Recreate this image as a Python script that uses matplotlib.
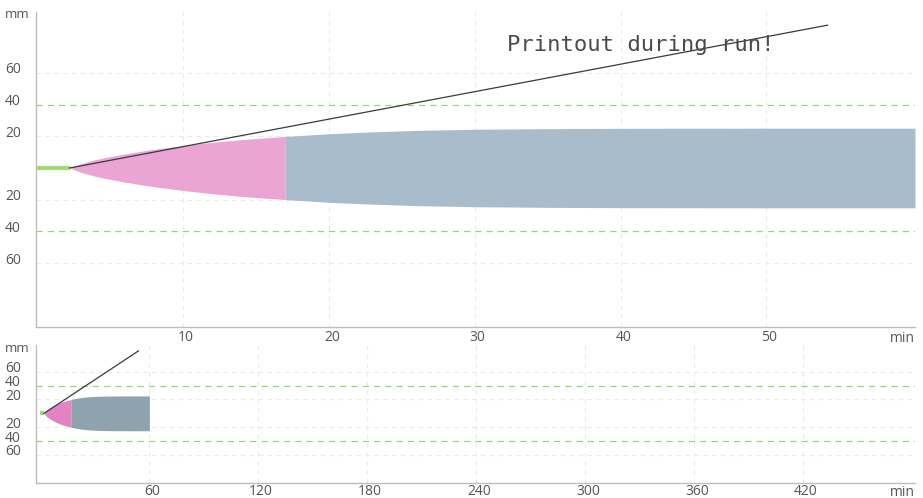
import numpy as np
import matplotlib
matplotlib.use("Agg")
import matplotlib.pyplot as plt
from matplotlib import transforms

# ---- data -------------------------------------------------------------
time_min = np.array([2.2, 3, 4, 5, 6, 7, 8, 10, 12, 14, 17, 20, 23, 26, 30, 35, 40, 50, 60.2])
amplitude_mm = np.array([0, 2.8, 5.3, 7.2, 8.9, 10.4, 11.8, 14.2, 16.2, 17.9, 19.9,
                         21.6, 22.8, 23.7, 24.4, 24.8, 25.0, 25.1, 25.1])
clot_time = 2.2          # end of flat (green) baseline
cft_end = 17.0           # end of pink (clot formation) phase
tangent_t = [2.2, 54.2]
tangent_mm = [0, 90]

top_xticks = [10, 20, 30, 40, 50]
bottom_xticks = [60, 120, 180, 240, 300, 360, 420]
y_grid_gray = [-60, -20, 20, 60]
y_grid_green = [-40, 40]
y_ticklabels = [60, 40, 20, -20, -40, -60]
note_text = "Printout during run!"

# ---- style ------------------------------------------------------------
PINK_TOP = "#EBA5D4"
BLUE_TOP = "#A9BCCC"
PINK_BOT = "#E483C2"
BLUE_BOT = "#8FA3AE"
GREEN = "#A3DB72"
GRID_GRAY = "#EAEAEA"
GRID_GREEN = "#92D878"
SPINE = "#BDBDBD"
LABEL = "#555555"
FONT = "Open Sans"

fig = plt.figure(figsize=(9.23, 4.98), dpi=100)
ax_top = fig.add_axes([36/923, 0.344, 879/923, 0.6325])
ax_bot = fig.add_axes([36/923, 0.0307, 879/923, 0.2765])


def style_axes(ax, xlim, xticks, pink, blue, mm_y, xpad):
    ax.set_xlim(*xlim)
    ax.set_ylim(-100, 98.5)
    for s in ["top", "right"]:
        ax.spines[s].set_visible(False)
    for s in ["left", "bottom"]:
        ax.spines[s].set_color(SPINE)
        ax.spines[s].set_linewidth(1.0)
    # grid
    for x in xticks:
        ax.axvline(x, color=GRID_GRAY, lw=0.8, ls=(0, (4, 4)), zorder=0)
    for y in y_grid_gray:
        ax.axhline(y, color=GRID_GRAY, lw=0.8, ls=(0, (4, 4)), zorder=0)
    for y in y_grid_green:
        ax.axhline(y, color=GRID_GREEN, lw=0.9, ls=(0, (5, 4)), zorder=1)
    # trace
    ax.plot([0, clot_time], [0, 0], color=GREEN, lw=3, solid_capstyle="butt", zorder=2)
    ax.fill_between(time_min, -amplitude_mm, amplitude_mm, where=time_min <= cft_end,
                    color=pink, lw=0, zorder=2)
    ax.fill_between(time_min, -amplitude_mm, amplitude_mm, where=time_min >= cft_end,
                    color=blue, lw=0, zorder=2)
    ax.plot(tangent_t, tangent_mm, color="#3a3a3a", lw=0.9, zorder=3)
    # x ticks
    ax.set_xticks(xticks)
    ax.set_xticklabels([str(v) for v in xticks], fontsize=10, color=LABEL, family=FONT)
    ax.tick_params(axis="x", length=0, pad=xpad)
    off = transforms.ScaledTranslation(3/100, 0, fig.dpi_scale_trans)
    for lab in ax.get_xticklabels():
        lab.set_transform(lab.get_transform() + off)
    ax.set_yticks([])
    ax.text(1.0, 0, "min", transform=ax.transAxes + transforms.ScaledTranslation(0, -xpad/72 - 0.01, fig.dpi_scale_trans),
            ha="right", va="top", fontsize=10, color=LABEL, family=FONT)
    # y labels, left aligned at figure edge
    tr = transforms.blended_transform_factory(fig.transFigure, ax.transData)
    yoff = transforms.ScaledTranslation(0, 3/100, fig.dpi_scale_trans)
    for v in y_ticklabels:
        ax.text(5/923, v, str(abs(v)), transform=tr + yoff, ha="left", va="center",
                fontsize=10, color=LABEL, family=FONT)
    ax.text(5/923, mm_y, "mm", transform=tr, ha="left", va="center",
            fontsize=9.5, color=LABEL, family=FONT)


style_axes(ax_top, (-0.1, 60.2), top_xticks, PINK_TOP, BLUE_TOP, 97, 2.5)
style_axes(ax_bot, (-2.2, 481.6), bottom_xticks, PINK_BOT, BLUE_BOT, 94, 0.8)

ax_top.text(41.4, 77.5, note_text, family="DejaVu Sans Mono", fontsize=16,
            color="#4a4a4a", ha="center", va="center", zorder=4)

fig.savefig("out.png", dpi=100)
